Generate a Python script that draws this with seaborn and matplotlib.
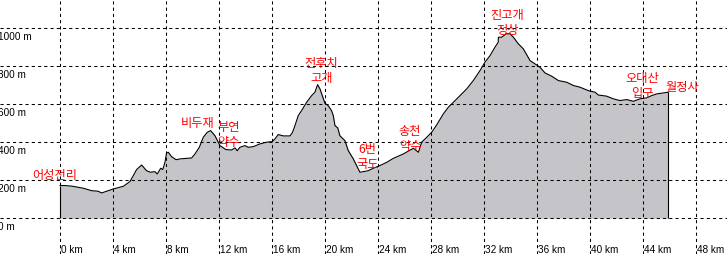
import matplotlib
matplotlib.use("Agg")
import matplotlib.pyplot as plt
import matplotlib.transforms as mtransforms
import numpy as np
import pandas as pd
import seaborn as sns

# ---- data ----
km = [0, 0.38, 0.88, 1.76, 2.39, 2.89, 3.14, 3.52, 4.02, 4.78, 5.28, 5.53, 5.78, 6.16,
      6.53, 6.83, 7.16, 7.34, 7.6, 7.75, 7.92, 8.04, 8.17, 8.42, 8.75, 9.05, 9.55, 9.93,
      10.18, 10.51, 10.81, 11.11, 11.36, 11.69, 12.07, 12.52, 12.95, 13.2, 13.37, 13.57,
      13.95, 14.2, 14.6, 15.08, 15.59, 16.01, 16.21, 16.46, 16.84, 17.35, 17.54, 17.72,
      17.97, 18.22, 18.6, 18.98, 19.23, 19.43, 19.61, 19.98, 20.23, 20.48, 20.61, 20.74,
      20.95, 21.11, 21.49, 21.74, 22.12, 22.62, 22.87, 23.25, 23.63, 24.13, 24.64, 25.14,
      25.89, 26.65, 27.03, 27.28, 27.66, 28.03, 28.41, 28.91, 29.29, 29.67, 30.17, 30.67,
      31.17, 31.67, 32.05, 32.43, 32.8, 33.05, 33.06, 33.31, 33.64, 33.94, 34.19, 34.57,
      34.94, 35.45, 35.82, 36.2, 36.58, 37.08, 37.59, 38.22, 38.72, 39.22, 39.85, 40.35,
      40.6, 41.23, 41.73, 42.23, 42.74, 43.24, 43.74, 44.24, 44.62, 45.0, 45.5, 45.88]
elev = [172, 172, 169, 158, 145, 142, 133, 142, 154, 168, 193, 224, 256, 280,
        250, 242, 245, 233, 263, 256, 294, 343, 347, 324, 308, 312, 315, 317,
        338, 373, 426, 452, 461, 434, 382, 361, 359, 370, 355, 373,
        382, 373, 377, 391, 400, 403, 417, 440, 433, 433, 452, 487,
        540, 566, 610, 645, 663, 703, 680, 605, 592, 566, 540, 487,
        475, 434, 408, 356, 312, 242, 245, 250, 263, 277, 294, 315,
        338, 368, 347, 400, 426, 452, 491, 549, 584, 610, 645, 680,
        724, 776, 821, 855, 899, 926, 952, 952, 970, 970, 952, 917,
        891, 829, 812, 794, 764, 747, 724, 715, 698, 689, 671, 663,
        648, 642, 628, 619, 624, 615, 628, 633, 645, 654, 659, 663]

y_ticks = [0, 200, 400, 600, 800, 1000]
x_ticks = [0, 4, 8, 12, 16, 20, 24, 28, 32, 36, 40, 44, 48]

place_names = ["어성전리", "비두재", "부연\n약수", "전후치\n고개", "6번\n국도",
               "송천\n약수", "진고개\n정상", "오대산\n입구", "월정사"]
place_km = [-0.38, 10.37, 12.69, 19.71, 23.18, 26.4, 33.74, 43.92, 46.93]
place_m = [230, 505, 443, 778, 328, 422, 1031, 701, 694]

df = pd.DataFrame({"km": km, "elev": elev})

# ---- figure ----
sns.set_style("white")
plt.rcParams["font.family"] = ["Liberation Sans", "DejaVu Sans"]

fig = plt.figure(figsize=(7.27, 2.55), dpi=100)
ax = fig.add_axes([0, 0, 1, 1])
ax.set_facecolor("white")
for s in ax.spines.values():
    s.set_visible(False)

ax.set_xlim(-4.52, 50.3)
ax.set_ylim(-188, 1153)

# filled profile
ax.fill_between(df["km"], 0, df["elev"], color="#c5c4c9", linewidth=0, zorder=1)
sns.lineplot(data=df, x="km", y="elev", ax=ax, color="black", linewidth=0.8,
             zorder=3, sort=False, estimator=None)
ax.vlines([km[0], km[-1]], 0, [elev[0], elev[-1]], color="black", linewidth=0.8, zorder=3)

# grid lines
grid_style = dict(color="black", linewidth=0.75, linestyle=(0, (3, 3)), zorder=2)
for v in y_ticks:
    ax.axhline(v, **grid_style)
for v in x_ticks:
    ax.axvline(v, **grid_style)

ax.set_xticks([])
ax.set_yticks([])
ax.set_xlabel("")
ax.set_ylabel("")

# tick labels as inner text
blend_y = mtransforms.blended_transform_factory(ax.transAxes, ax.transData)
for v in y_ticks:
    ax.annotate(f"{v} m", xy=(0, v), xycoords=blend_y, xytext=(-2, -3),
                textcoords="offset pixels", ha="left", va="top", fontsize=7.2,
                color="black", zorder=5)
blend_x = mtransforms.blended_transform_factory(ax.transData, ax.transAxes)
for v in x_ticks:
    ax.annotate(f"{v} km", xy=(v, 0), xycoords=blend_x, xytext=(1, 5),
                textcoords="offset pixels", ha="left", va="center", fontsize=7.2,
                color="black", zorder=5)

# place names
for name, x, y in zip(place_names, place_km, place_m):
    ax.text(x, y, name, ha="center", va="center", color="red", fontsize=8.8,
            family=["Noto Sans CJK KR", "DejaVu Sans"], linespacing=1.2, zorder=6)

fig.savefig("out.png", dpi=100, facecolor="white")
